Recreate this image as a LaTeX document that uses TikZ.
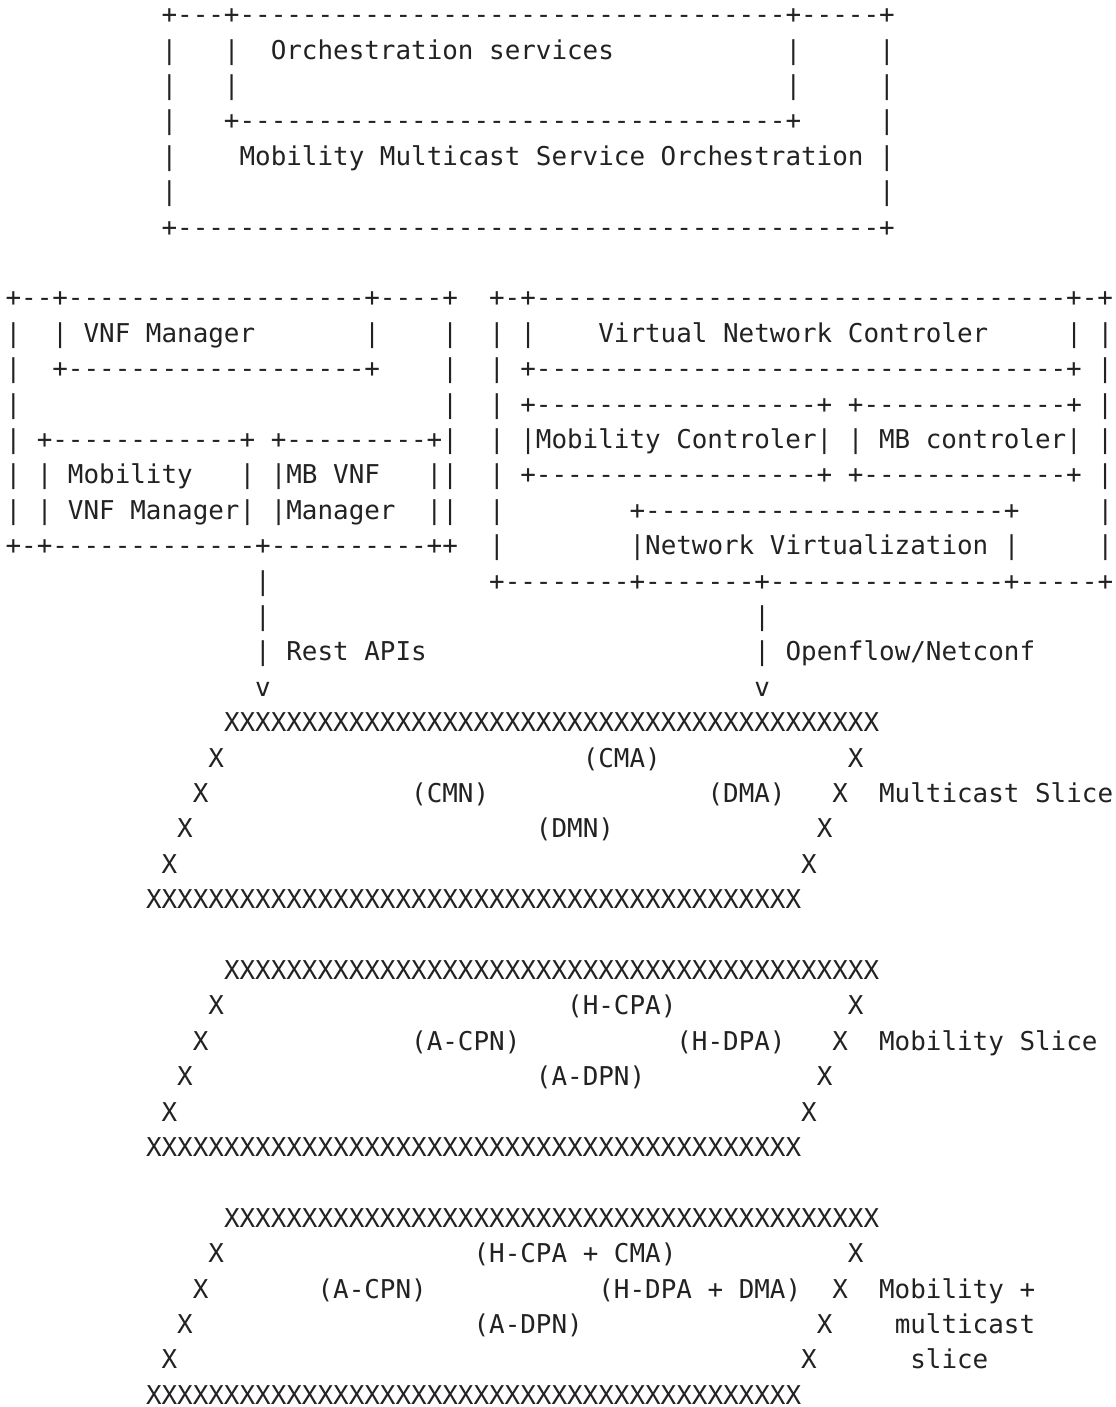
\documentclass[tikz,border=0pt]{standalone}
\usepackage{fontspec}
\setmonofont{DejaVu Sans Mono}
\ExplSyntaxOn
\cs_new:Npn \myrep #1#2 { \prg_replicate:nn {#1} {#2} }
\ExplSyntaxOff
\newcommand\gap[1]{\myrep{#1}{\ }}
\definecolor{ink}{RGB}{34,34,34}
\tikzset{asc/.style={anchor=base west,inner sep=0pt,outer sep=0pt,text=ink,
  font=\ttfamily\fontsize{25.91pt}{35pt}\selectfont}}
\begin{document}
\begin{tikzpicture}[x=15.6pt,y=-35.4pt]
\fill[white] (0,0) rectangle (71.538,39.746);
\useasboundingbox (0,0) rectangle (71.538,39.746);
\begin{scope}[shift={(0.359,-0.3333)}]
% top box
\node[asc] (l1) at (10,1) {+---+\myrep{35}{-}+-----+};
\node[asc] (l2) at (10,2) {|\gap3|\gap2Orchestration services\gap{11}|\gap5|};
\node[asc] (l3) at (10,3) {|\gap3|\gap{35}|\gap5|};
\node[asc] (l4) at (10,4) {|\gap3+\myrep{35}{-}+\gap5|};
\node[asc] (l5) at (10,5) {|\gap4Mobility Multicast Service Orchestration\gap1|};
\node[asc] (l6) at (10,6) {|\gap{45}|};
\node[asc] (l7) at (10,7) {+\myrep{45}{-}+};
% VNF manager and Virtual Network Controler
\node[asc] (l9) at (0,9) {+--+\myrep{19}{-}+----+\gap2+-+\myrep{34}{-}+-+};
\node[asc] (l10) at (0,10) {|\gap2|\gap1VNF Manager\gap7|\gap4|\gap2|\gap1|\gap4Virtual Network Controler\gap5|\gap1|};
\node[asc] (l11) at (0,11) {|\gap2+\myrep{19}{-}+\gap4|\gap2|\gap1+\myrep{34}{-}+\gap1|};
\node[asc] (l12) at (0,12) {|\gap{27}|\gap2|\gap1+\myrep{18}{-}+\gap1+\myrep{13}{-}+\gap1|};
\node[asc] (l13) at (0,13) {|\gap1+\myrep{12}{-}+\gap1+\myrep{9}{-}+|\gap2|\gap1|Mobility Controler|\gap1|\gap1MB controler|\gap1|};
\node[asc] (l14) at (0,14) {|\gap1|\gap1Mobility\gap3|\gap1|MB VNF\gap3||\gap2|\gap1+\myrep{18}{-}+\gap1+\myrep{13}{-}+\gap1|};
\node[asc] (l15) at (0,15) {|\gap1|\gap1VNF Manager|\gap1|Manager\gap2||\gap2|\gap8+\myrep{23}{-}+\gap5|};
\node[asc] (l16) at (0,16) {+-+\myrep{13}{-}+\myrep{10}{-}++\gap2|\gap8|Network Virtualization\gap1|\gap5|};
\node[asc] (l17) at (16,17) {|\gap{14}+\myrep{8}{-}+\myrep{7}{-}+\myrep{15}{-}+\myrep{5}{-}+};
\node[asc] (l18) at (16,18) {|\gap{31}|};
\node[asc] (l19) at (16,19) {|\gap1Rest APIs\gap{21}|\gap1Openflow/Netconf};
\node[asc] (l20) at (16,20) {v\gap{31}v};
% Multicast slice
\node[asc] (l21) at (14,21) {\myrep{42}{X}};
\node[asc] (l22) at (13,22) {X\gap{23}(CMA)\gap{12}X};
\node[asc] (l23) at (12,23) {X\gap{13}(CMN)\gap{14}(DMA)\gap3X\gap2Multicast Slice};
\node[asc] (l24) at (11,24) {X\gap{22}(DMN)\gap{13}X};
\node[asc] (l25) at (10,25) {X\gap{40}X};
\node[asc] (l26) at (9,26) {\myrep{42}{X}};
% Mobility slice
\node[asc] (l28) at (14,28) {\myrep{42}{X}};
\node[asc] (l29) at (13,29) {X\gap{22}(H-CPA)\gap{11}X};
\node[asc] (l30) at (12,30) {X\gap{13}(A-CPN)\gap{10}(H-DPA)\gap3X\gap2Mobility Slice};
\node[asc] (l31) at (11,31) {X\gap{22}(A-DPN)\gap{11}X};
\node[asc] (l32) at (10,32) {X\gap{40}X};
\node[asc] (l33) at (9,33) {\myrep{42}{X}};
% Mobility + multicast slice
\node[asc] (l35) at (14,35) {\myrep{42}{X}};
\node[asc] (l36) at (13,36) {X\gap{16}(H-CPA + CMA)\gap{11}X};
\node[asc] (l37) at (12,37) {X\gap7(A-CPN)\gap{11}(H-DPA + DMA)\gap2X\gap2Mobility +};
\node[asc] (l38) at (11,38) {X\gap{18}(A-DPN)\gap{15}X\gap4multicast};
\node[asc] (l39) at (10,39) {X\gap{40}X\gap6slice};
\node[asc] (l40) at (9,40) {\myrep{42}{X}};
\end{scope}
\end{tikzpicture}
\end{document}
